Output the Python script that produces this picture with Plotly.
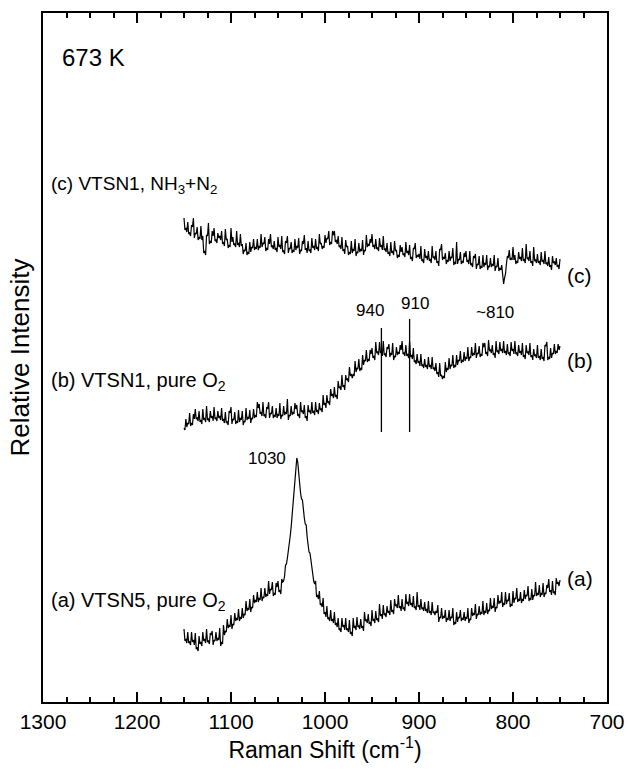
import plotly.graph_objects as go

# Raman shift sampling grid (cm^-1), 1150 -> 750 every 1
shift = list(range(1150, 749, -1))

# (c) VTSN1, NH3+N2
spec_c = [
    484,472,474,470,480,468,469,466,477,475,484,464,469,468,475,462,465,463,476,462,
    466,449,451,447,467,466,479,458,461,459,471,466,474,461,462,459,469,464,466,462,
    471,458,460,456,473,462,463,454,457,455,474,460,465,457,458,455,471,457,459,455,
    468,456,458,448,452,451,459,447,450,448,460,450,455,454,463,452,455,453,463,452,
    456,454,468,455,459,458,465,451,454,452,463,458,468,455,456,453,461,452,454,450,
    465,455,457,453,466,450,451,448,461,459,466,449,454,453,460,449,452,450,463,452,
    456,454,464,448,452,451,461,458,467,452,454,449,461,451,452,449,464,454,456,452,
    463,453,455,451,468,458,459,453,456,454,467,459,464,463,471,457,460,458,471,467,
    471,460,462,458,466,455,456,453,465,451,453,448,462,455,456,447,450,448,461,449,
    453,451,463,446,450,449,459,450,453,451,462,447,452,451,467,455,458,456,463,459,
    468,455,457,453,463,453,454,451,464,455,457,452,466,452,453,450,459,448,450,446,
    460,449,451,447,461,451,452,444,447,445,457,450,455,447,448,445,460,449,451,447,
    457,443,445,441,454,453,459,444,447,445,448,443,456,441,442,439,453,444,446,442,
    451,441,443,439,456,444,445,442,451,439,441,436,453,452,458,442,445,443,449,438,
    442,440,451,441,445,444,454,437,440,438,460,438,443,442,450,438,441,439,449,445,
    451,440,442,438,451,437,438,435,446,444,448,433,438,437,446,433,436,434,447,435,
    439,437,447,432,436,435,444,435,438,436,447,431,436,435,444,431,434,432,437,428,
    418,424,428,438,446,444,452,442,444,442,455,442,447,438,441,439,450,443,445,441,
    454,441,443,439,458,443,444,441,451,439,441,436,455,441,442,439,448,439,441,437,
    450,440,442,438,451,438,439,436,445,435,437,432,446,439,440,437,444,435,437,433,
    443,
]

# (b) VTSN1, pure O2
spec_b = [
    274,272,283,275,279,278,289,276,279,277,288,283,293,283,284,281,291,280,282,278,
    293,282,284,280,296,282,283,280,291,284,286,281,295,283,284,281,291,284,286,282,
    294,281,283,279,290,279,280,277,291,289,295,278,283,282,290,278,281,279,292,280,
    284,282,291,277,281,280,294,282,285,283,292,279,284,283,293,284,287,285,300,294,
    298,288,290,286,300,286,287,284,295,293,300,284,289,288,296,284,287,285,294,284,
    288,286,299,283,287,286,296,287,290,288,303,282,287,286,296,287,290,288,299,293,
    297,286,288,284,300,290,291,288,297,284,286,281,297,290,291,288,300,289,291,287,
    300,290,292,288,299,292,293,290,307,297,299,294,307,299,300,297,313,306,308,304,
    315,305,307,303,321,314,315,312,327,315,317,312,327,322,323,320,335,326,328,324,
    328,326,341,330,334,333,343,331,334,332,347,337,342,341,352,340,343,341,352,348,
    354,344,346,342,360,349,350,347,360,349,351,346,361,347,348,345,355,353,358,345,
    349,347,359,342,346,345,355,347,350,348,357,352,361,348,349,346,357,346,348,344,
    361,345,347,343,354,340,341,338,348,339,341,336,348,336,337,334,343,335,337,333,
    345,335,337,333,345,333,334,331,339,328,330,325,339,326,327,323,326,324,340,330,
    334,332,344,333,337,336,347,334,337,335,347,337,342,341,351,339,342,340,350,341,
    345,343,355,341,345,344,355,346,349,347,359,344,349,348,356,345,348,346,359,355,
    359,348,350,346,362,351,352,349,357,347,349,344,361,350,351,348,360,351,353,349,
    361,349,351,347,358,348,349,346,360,351,353,348,361,348,349,346,357,349,351,347,
    359,345,347,343,357,349,350,347,359,345,347,342,353,346,347,344,357,344,346,342,
    353,343,345,341,357,356,360,342,345,343,354,344,349,348,358,348,351,349,358,352,
    356,
]

# (a) VTSN5, pure O2
spec_a = [
    73,61,63,59,70,59,60,57,70,60,62,57,69,53,54,51,66,58,60,56,
    70,61,63,59,73,60,61,58,69,67,71,57,62,61,70,61,64,62,74,56,
    60,58,77,67,71,70,83,74,77,75,87,73,78,77,89,81,84,82,93,81,
    85,83,94,84,88,87,101,91,94,92,103,90,95,94,107,99,102,100,110,100,
    104,102,114,101,105,104,114,105,108,106,121,108,113,112,120,106,109,107,119,115,
    121,110,112,108,123,120,121,126,137,138,144,150,160,166,175,186,199,211,225,236,
    244,240,232,219,209,203,202,190,184,178,177,165,157,150,149,141,139,128,121,118,
    121,105,107,103,111,97,98,95,104,88,90,85,96,83,84,81,92,81,83,79,
    90,77,79,75,84,72,73,70,84,75,77,72,84,72,73,70,82,68,70,66,
    84,74,76,72,85,75,76,73,83,74,76,71,90,81,82,79,88,78,80,76,
    92,81,83,79,91,82,83,80,98,86,88,83,97,87,88,85,96,89,91,87,
    102,90,92,88,103,96,97,94,107,94,96,91,103,93,94,91,108,98,100,96,
    108,97,99,95,106,94,95,92,110,95,97,92,103,93,94,91,100,91,93,89,
    101,89,91,87,100,89,90,87,91,89,97,80,85,84,94,83,86,84,92,80,
    84,82,92,81,85,84,94,77,80,78,90,80,85,84,92,81,84,82,90,81,
    85,83,94,79,83,82,94,86,89,87,98,83,88,87,96,87,90,88,101,87,
    91,89,99,88,92,91,104,93,96,94,104,90,95,94,107,98,101,99,110,95,
    99,97,110,98,102,101,109,95,98,96,111,99,104,103,114,100,103,101,110,99,
    103,101,112,103,107,106,116,101,104,102,113,102,107,106,120,106,109,107,117,105,
    109,107,119,105,109,108,117,114,123,110,112,107,121,109,110,107,124,118,120,116,
    122,
]

# band markers on spectrum (b)
marker_x = [940, 910]
marker_top = [374, 383]
marker_bottom = [270, 270]

x_ticks = [1300, 1200, 1100, 1000, 900, 800, 700]

FONT = "Arial, Liberation Sans, Helvetica, sans-serif"

fig = go.Figure()
for s in (spec_a, spec_b, spec_c):
    fig.add_trace(go.Scatter(x=shift, y=s, mode="lines",
                             line=dict(color="black", width=1.2), showlegend=False))
for mx, mt, mb in zip(marker_x, marker_top, marker_bottom):
    fig.add_trace(go.Scatter(x=[mx, mx], y=[mb, mt], mode="lines",
                             line=dict(color="black", width=1.3), showlegend=False))

ann = [
    dict(text="673 K", x=1246, y=645, xanchor="center", size=24),
    dict(text="(c) VTSN1, NH<sub>3</sub>+N<sub>2</sub>", x=1294, y=517, xanchor="left", size=19),
    dict(text="(b) VTSN1, pure O<sub>2</sub>", x=1294, y=321, xanchor="left", size=20),
    dict(text="(a) VTSN5, pure O<sub>2</sub>", x=1294, y=101, xanchor="left", size=20),
    dict(text="(c)", x=745, y=427, xanchor="left", size=21),
    dict(text="(b)", x=745, y=342, xanchor="left", size=21),
    dict(text="(a)", x=745, y=124, xanchor="left", size=21),
    dict(text="1030", x=1039, y=244, xanchor="right", size=17),
    dict(text="940", x=952, y=392, xanchor="center", size=17),
    dict(text="910", x=904, y=399, xanchor="center", size=17),
    dict(text="~810", x=819, y=390, xanchor="center", size=17),
]
for a in ann:
    fig.add_annotation(x=a["x"], y=a["y"], text=a["text"], showarrow=False,
                       xanchor=a["xanchor"], yanchor="middle",
                       font=dict(family=FONT, size=a["size"], color="black"))

fig.update_layout(
    width=628, height=770,
    margin=dict(l=43, r=21, t=13, b=68),
    paper_bgcolor="white", plot_bgcolor="white",
    font=dict(family=FONT, color="black"),
    xaxis=dict(
        range=[1300, 700], tickvals=x_ticks, ticktext=[str(v) for v in x_ticks],
        ticks="inside", ticklen=10, tickwidth=2, tickcolor="black",
        minor=dict(dtick=25, ticks="inside", ticklen=5, tickwidth=2, tickcolor="black"),
        showline=True, linewidth=2, linecolor="black", mirror="ticks",
        showgrid=False, zeroline=False, automargin=False,
        ticklabeloverflow="allow",
        tickfont=dict(size=21),
        title=dict(text="Raman Shift (cm<sup>-1</sup>)", font=dict(size=23), standoff=6),
    ),
    yaxis=dict(
        range=[0, 689], showticklabels=False, ticks="",
        showline=True, linewidth=2, linecolor="black", mirror=True,
        showgrid=False, zeroline=False, automargin=False,
        title=dict(text="Relative Intensity", font=dict(size=26), standoff=4),
    ),
)

fig.write_html("out.html")
